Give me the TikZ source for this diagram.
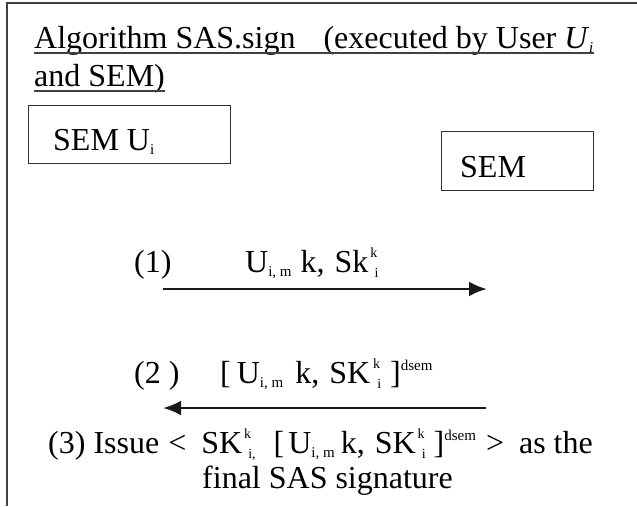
\documentclass[tikz,border=0pt]{standalone}
\usepackage{fontspec}
\setmainfont{Liberation Serif}
\usetikzlibrary{arrows.meta}
\newcommand{\mysb}[1]{\raisebox{-4pt}{\fontsize{15}{15}\selectfont #1}}
\newcommand{\mysp}[1]{\raisebox{13pt}{\fontsize{15}{15}\selectfont #1}}
\newcommand{\mystsb}[1]{\raisebox{-5pt}{\fontsize{14}{14}\selectfont #1}}
\newcommand{\mystsp}[1]{\raisebox{15pt}{\fontsize{14}{14}\selectfont #1}}
\newcommand{\mysps}[2]{\makebox[0pt][l]{\mystsp{#1}}\makebox[8pt][r]{\mystsb{#2}}}
\tikzset{
  txt/.style={anchor=base west, inner sep=0pt, font=\fontsize{32}{36}\selectfont},
  frm/.style={draw=black!75, line width=1.4pt},
  bx/.style={draw=black!80, line width=1.2pt},
  ul/.style={draw=black!75, line width=1.1pt},
  arr/.style={draw=black!90, line width=2.8pt, -{Latex[length=18pt,width=15pt]}}
}
\begin{document}
\begin{tikzpicture}[x=1pt,y=-1pt]
\useasboundingbox (0,0) rectangle (637,506);
\fill[white] (0,0) rectangle (637,506);
% frame
\coordinate (fb) at (7,506);
\coordinate (ftl) at (7,3);
\coordinate (ftr) at (637,3);
\draw[frm] (fb) -- (ftl) -- (ftr);
% title
\node[txt] (t1) at (34,48) {Algorithm SAS.sign\hspace{28pt}(executed by User \textit{U}\mysb{\textit{i}}};
\node[txt] (t2) at (34,86) {and SEM)};
\draw[ul] ([yshift=-5pt]t1.base west) -- ([yshift=-5pt]t1.base east);
\draw[ul] ([yshift=-5pt]t2.base west) -- ([yshift=-5pt]t2.base east);
% boxes
\node[bx, minimum width=202pt, minimum height=58pt, anchor=north west, inner sep=0pt] (b1) at (28,105) {};
\node[txt] (b1t) at (53,150) {SEM U\mysb{i}};
\node[bx, minimum width=152pt, minimum height=59pt, anchor=north west, inner sep=0pt] (b2) at (441,131) {};
\node[txt] (b2t) at (460,177) {SEM};
% arrow 1
\coordinate (a1s) at (163,289);
\coordinate (a1e) at (487,289);
\draw[arr] (a1s) -- (a1e);
\node[txt] (l1a) at (134,272) {(1)};
\node[txt] (l1b) at (245,272) {U\mysb{i, m}\hspace{9pt}k,\hspace{10pt}Sk\hspace{2pt}\mysps{k}{i}};
% arrow 2
\coordinate (a2s) at (486,408);
\coordinate (a2e) at (163,408);
\draw[arr] (a2s) -- (a2e);
\node[txt] (l2a) at (134,383) {(2 )};
\node[txt] (l2b) at (220,383) {[\hspace{6pt}U\mysb{i, m}\hspace{12pt}k,\hspace{10pt}SK\hspace{3pt}\mysps{k}{i}\hspace{9pt}]\mysp{dsem}};
% line 3
\node[txt] (l3) at (48,453) {(3) Issue\hspace{9pt}<\hspace{15pt}SK\hspace{2pt}\mysps{k}{i}\mystsb{,}\hspace{18pt}[\hspace{4pt}U\mysb{i, m}\hspace{6pt}k,\hspace{10pt}SK\hspace{2pt}\mysps{k}{i}\hspace{8pt}]\mysp{dsem}\hspace{10pt}>\hspace{15pt}as the};
\node[txt] (l4) at (202,488) {final SAS signature};
\end{tikzpicture}
\end{document}
